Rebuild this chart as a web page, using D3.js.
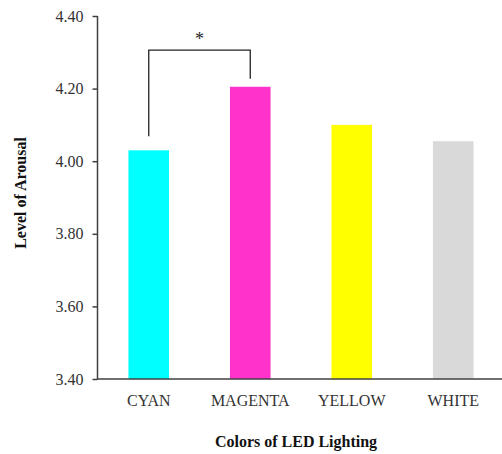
<!DOCTYPE html>
<html>
<head>
<meta charset="utf-8">
<script src="https://cdn.jsdelivr.net/npm/d3@7"></script>
<style>
  body { margin: 0; background: #fff; }
  svg { display: block; }
</style>
</head>
<body>
<div id="area"></div>
<script>
// values
const categories = ["CYAN", "MAGENTA", "YELLOW", "WHITE"]
const arousal = [4.03, 4.205, 4.10, 4.055]
const barColors = ["#00ffff", "#ff33cc", "#ffff00", "#d9d9d9"]
const yTicks = [3.40, 3.60, 3.80, 4.00, 4.20, 4.40]

const width = 502
const height = 454
const axisColor = "#404040"
const font = "'Liberation Serif', 'Times New Roman', serif"

const x = d3.scaleBand()
    .domain(categories)
    .range([98, 504])
    .paddingInner(0.6)
    .paddingOuter(0.3)

const y = d3.scaleLinear()
    .domain([3.4, 4.4])
    .range([379, 16])

const svg = d3.select("#area").append("svg")
    .attr("width", width)
    .attr("height", height)
    .style("font-family", font)

// bars
svg.append("g")
    .selectAll("rect")
    .data(categories)
    .join("rect")
    .attr("x", d => x(d))
    .attr("width", x.bandwidth())
    .attr("y", (d, i) => y(arousal[i]))
    .attr("height", (d, i) => y(3.4) - y(arousal[i]))
    .attr("fill", (d, i) => barColors[i])

// y axis
const yAxis = svg.append("g")
    .attr("transform", "translate(97.5,0)")
    .call(d3.axisLeft(y).tickValues(yTicks).tickFormat(d3.format(".2f")).tickSize(5).tickPadding(9))
yAxis.select(".domain").attr("stroke", axisColor).attr("stroke-width", 1.5).attr("d", "M0,16V379")
yAxis.selectAll(".tick line").attr("stroke", axisColor).attr("stroke-width", 1.5)
yAxis.selectAll(".tick text")
    .attr("fill", "#333")
    .style("font-family", font)
    .style("font-size", "16px")

// x axis
const xAxis = svg.append("g")
    .attr("transform", "translate(0,379)")
    .call(d3.axisBottom(x).tickSize(0).tickPadding(16))
xAxis.select(".domain").attr("stroke", axisColor).attr("stroke-width", 1.5).attr("d", "M97,0H502")
xAxis.selectAll(".tick text")
    .attr("fill", "#333")
    .style("font-family", font)
    .style("font-size", "16px")

// significance bracket between CYAN and MAGENTA
const cx0 = x("CYAN") + x.bandwidth() / 2
const cx1 = x("MAGENTA") + x.bandwidth() / 2
const bracketTop = y(4.306)
svg.append("path")
    .attr("fill", "none")
    .attr("stroke", "#222")
    .attr("stroke-width", 1.3)
    .attr("d", `M${cx0},${y(arousal[0]) - 14}V${bracketTop}H${cx1}V${y(arousal[1]) - 8}`)

svg.append("text")
    .attr("x", (cx0 + cx1) / 2)
    .attr("y", bracketTop - 5)
    .attr("text-anchor", "middle")
    .attr("fill", "#222")
    .style("font-size", "18px")
    .text("*")

// axis titles
svg.append("text")
    .attr("x", 296)
    .attr("y", 447)
    .attr("text-anchor", "middle")
    .attr("font-weight", "bold")
    .attr("fill", "#111")
    .style("font-size", "16px")
    .text("Colors of LED Lighting")

svg.append("text")
    .attr("transform", "translate(26,193) rotate(-90)")
    .attr("text-anchor", "middle")
    .attr("font-weight", "bold")
    .attr("fill", "#111")
    .style("font-size", "16px")
    .text("Level of Arousal")
</script>
</body>
</html>
